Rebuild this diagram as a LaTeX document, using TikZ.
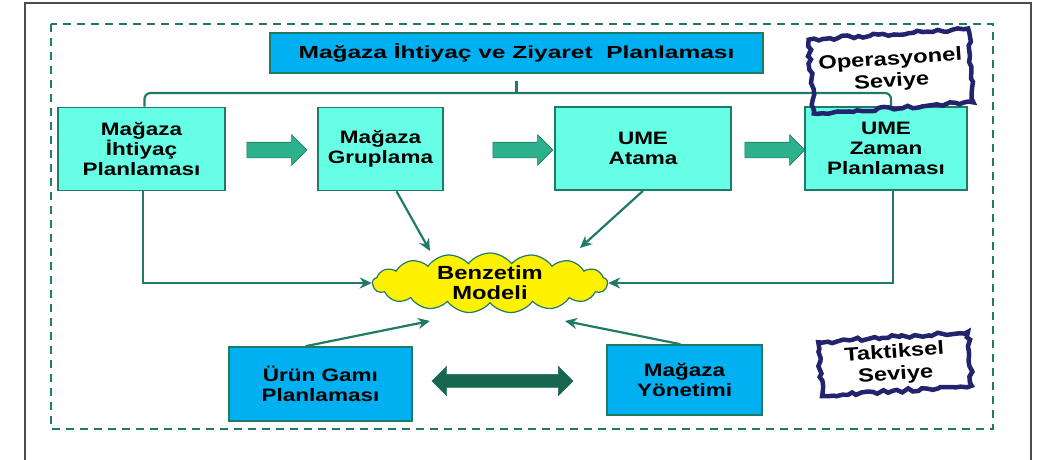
\documentclass[tikz,border=0pt]{standalone}
\usepackage{fontspec}
\setmainfont{Liberation Sans}
\newfontfamily\wideA[FakeStretch=1.25]{Liberation Sans}
\newfontfamily\wideB[FakeStretch=1.4]{Liberation Sans}
\usetikzlibrary{positioning}
\usetikzlibrary{shapes.symbols,shapes.arrows}
\usetikzlibrary{decorations.pathmorphing}
\usetikzlibrary{arrows.meta}
\definecolor{edgegreen}{HTML}{1F7A66}
\definecolor{boxaqua}{HTML}{66FFE6}
\definecolor{boxblue}{HTML}{00B0F0}
\definecolor{arrowgreen}{HTML}{2DB08C}
\definecolor{darkgreen}{HTML}{17664F}
\definecolor{stampnavy}{HTML}{23236E}
\tikzset{
every node/.style={ % Sets the text of all nodes
font=\wideA\bfseries\fontsize{18}{20}\selectfont,
align=center,
inner sep=0pt},
stepbox/.style={ % Boxes of the upper row
draw=edgegreen,
line width=1.6pt,
fill=boxaqua,
minimum height=83pt},
levelbox/.style={ % Blue boxes
draw=edgegreen,
line width=1.6pt,
fill=boxblue},
flowarrow/.style={ % Block arrows between the steps
single arrow,
draw=edgegreen,
fill=arrowgreen,
line width=0.6pt,
inner sep=7.5pt,
minimum height=60pt,
single arrow head extend=7.5pt},
feed/.style={ % Connectors into the model
draw=edgegreen,
line width=2.8pt,
-{Stealth[length=12pt,width=11pt]}},
stamp/.style={ % Rough stamp frames
draw=stampnavy,
line width=4.5pt,
decorate,
decoration={random steps, segment length=5pt, amplitude=1.8pt},
font=\wideA\bfseries\fontsize{19}{22}\selectfont,
rotate=4}}

\begin{document}
\begin{tikzpicture}[x=1pt, y=-1pt]
	\pgfmathsetseed{7}
	\useasboundingbox (0,0) rectangle (1052,459);
	% page frame and level frame
	\draw[line width=2pt, black!70] (25,470) -- (25,3) -- (1031,3) -- (1031,470);
	\draw[edgegreen, line width=2pt, dash pattern=on 8pt off 6pt] (51,24) rectangle (993,429);
	% top level
	\node[levelbox, minimum width=493pt, minimum height=40pt, font=\wideB\bfseries\fontsize{17.5}{20}\selectfont] (plan) at (516.5,53) {Mağaza İhtiyaç ve Ziyaret~ Planlaması};
	\node[stepbox, minimum width=167pt] (ihtiyac) at (141.5,149) {Mağaza\\İhtiyaç\\Planlaması};
	\node[stepbox, minimum width=125pt] (grup) at (380.5,149) {Mağaza\\Gruplama};
	\node[stepbox, minimum width=176pt] (atama) at (643,148.5) {UME\\Atama};
	\node[stepbox, minimum width=162pt] (zaman) at (886,148.5) {UME\\Zaman\\Planlaması};
	\node[flowarrow] (a1) at (273,150) {};
	\node[flowarrow] (a2) at (519,150) {};
	\node[flowarrow] (a3) at (771,150) {};
	\coordinate (brace) at (516.5,93);
	\draw[edgegreen, line width=2.2pt, rounded corners=6pt] ([xshift=3pt]ihtiyac.north) |- (brace) -| ([xshift=5pt]zaman.north);
	\draw[edgegreen, line width=2.2pt] ([yshift=-7pt]plan.south) -- (brace);
	% simulation model
	\node[cloud, cloud puffs=17, cloud puff arc=105, aspect=4, draw=edgegreen, line width=1.2pt, fill=yellow, inner sep=-4pt, minimum width=235pt, minimum height=60pt, font=\wideA\bfseries\fontsize{19}{20}\selectfont] (model) at (490,283) {Benzetim\\Modeli};
	% tactical level
	\node[levelbox, minimum width=183pt, minimum height=74pt] (urun) at (320.5,384) {Ürün Gamı\\Planlaması};
	\node[levelbox, minimum width=155pt, minimum height=70pt] (yonetim) at (684.5,380) {Mağaza\\Yönetimi};
	\node[double arrow, draw=darkgreen, fill=darkgreen, inner sep=6.5pt, minimum height=141pt, double arrow head extend=8pt] (swap) at (502.5,381) {};
	% connectors
	\draw[feed] ([xshift=1.5pt]ihtiyac.south) |- (model.west);
	\draw[feed] ([xshift=7pt]zaman.south) |- (model.east);
	\draw[feed, line width=2.2pt] ([xshift=16pt]grup.south) -- ([xshift=-60pt, yshift=32pt]model.center);
	\draw[feed, line width=2.2pt] (atama.south) -- ([xshift=90pt, yshift=35pt]model.center);
	\draw[feed, line width=2.2pt] ([xshift=-15pt]urun.north) -- ([xshift=-60pt, yshift=-38pt]model.center);
	\draw[feed, line width=2.2pt] ([xshift=-4pt]yonetim.north) -- ([xshift=75pt, yshift=-38pt]model.center);
	% level stamps
	\node[stamp, minimum width=160pt, minimum height=74pt] (oper) at (891,71) {Operasyonel\\Seviye};
	\node[stamp, minimum width=150pt, minimum height=54pt] (takt) at (895,364) {Taktiksel\\Seviye};
\end{tikzpicture}
\end{document}
